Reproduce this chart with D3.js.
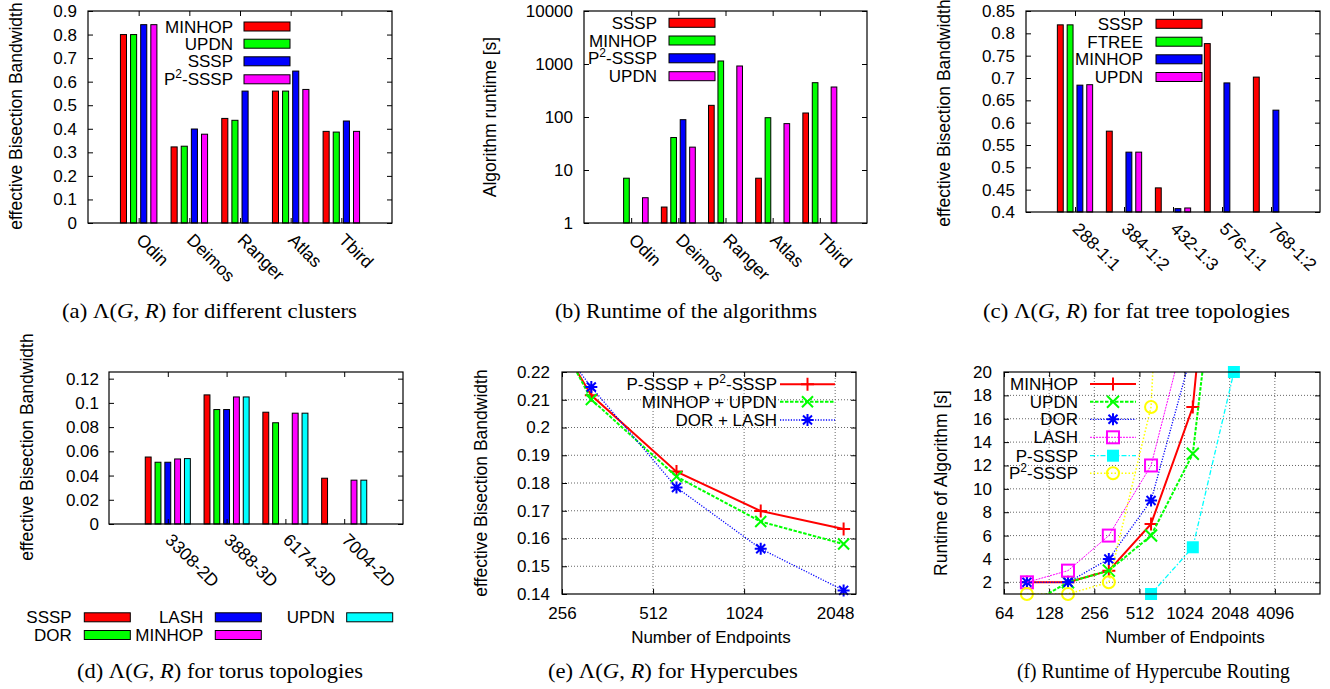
<!DOCTYPE html>
<html><head><meta charset="utf-8">
<script src="https://cdn.jsdelivr.net/npm/d3@7"></script>
<style>body{margin:0;background:#fff} svg{display:block}</style>
</head><body><svg id="c" width="1330" height="689"></svg>
<script>
// ---------- DATA ----------
// (a) effective bisection bandwidth, clusters
const clusters = ["Odin","Deimos","Ranger","Atlas","Tbird"];
const seriesA = ["MINHOP","UPDN","SSSP","P²-SSSP"];
const aMinhop = [0.800,0.323,0.444,0.560,0.389];
const aUpdn   = [0.800,0.326,0.436,0.560,0.386];
const aSssp   = [0.842,0.399,0.560,0.645,0.433];
const aP2sssp = [0.842,0.377,0,0.567,0.389];
// (b) runtime [s], clusters
const seriesB = ["SSSP","MINHOP","P²-SSSP","UPDN"];
const bSssp   = [1,2,166,7,119];
const bMinhop = [7,41,1140,97,444];
const bP2sssp = [1,89,null,null,null];
const bUpdn   = [3,27,917,75,368];
// (c) fat trees
const fatTrees = ["288-1:1","384-1:2","432-1:3","576-1:1","768-1:2"];
const seriesC = ["SSSP","FTREE","MINHOP","UPDN"];
const cSssp   = [0.819,0.581,0.454,0.777,0.702];
const cFtree  = [0.819,0,0,0,0];
const cMinhop = [0.684,0.534,0.4075,0.689,0.628];
const cUpdn   = [0.685,0.534,0.409,null,null];
// (d) tori
const tori = ["3308-2D","3888-3D","6174-3D","7004-2D"];
const seriesD = ["SSSP","DOR","LASH","MINHOP","UPDN"];
const dSssp   = [0.0553,0.1066,0.0923,0.0378];
const dDor    = [0.0510,0.0945,0.0836,null];
const dLash   = [0.0510,0.0945,0,null];
const dMinhop = [0.0537,0.1049,0.0915,0.0362];
const dUpdn   = [0.0540,0.1049,0.0915,0.0362];
// (e),(f) hypercubes
const hcEndpoints = [91,171,320,612,1162,2184];
const seriesE = ["P-SSSP + P²-SSSP","MINHOP + UPDN","DOR + LASH"];
const ePsssp  = [null,0.261,0.2116,0.1841,0.1699,0.1634];
const eMinUp  = [null,0.266,0.2101,0.1823,0.1661,0.1580];
const eDorLash= [null,0.253,0.2146,0.1784,0.1563,0.1413];
const seriesF = ["MINHOP","UPDN","DOR","LASH","P-SSSP","P²-SSSP"];
const fMinhop = [2,2,3,7,17,53];
const fUpdn   = [0,2,3,6,13,43];
const fDor    = [2,2,4,9,22,60];
const fLash   = [2,3,6,12,26,70];
const fPsssp  = [0,0,0,1,5,20];
const fP2sssp = [1,1,2,17,90,300];
// tick values
const ticksA = [0,0.1,0.2,0.3,0.4,0.5,0.6,0.7,0.8,0.9];
const ticksB = [1,10,100,1000,10000];
const ticksC = [0.4,0.45,0.5,0.55,0.6,0.65,0.7,0.75,0.8,0.85];
const ticksD = [0,0.02,0.04,0.06,0.08,0.1,0.12];
const ticksEy = [0.14,0.15,0.16,0.17,0.18,0.19,0.2,0.21,0.22];
const ticksEx = [256,512,1024,2048];
const ticksFy = [2,4,6,8,10,12,14,16,18,20];
const ticksFx = [64,128,256,512,1024,2048,4096];
// captions
const captions = [
  {pre:"(a) ", math:true, post:" for different clusters"},
  {pre:"(b) Runtime of the algorithms", math:false, post:""},
  {pre:"(c) ", math:true, post:" for fat tree topologies"},
  {pre:"(d) ", math:true, post:" for torus topologies"},
  {pre:"(e) ", math:true, post:" for Hypercubes"},
  {pre:"(f) Runtime of Hypercube Routing", math:false, post:""}
];

// ---------- DRAWING ----------
const svg = d3.select("#c");
const FONT = "'Liberation Sans', Arial, Helvetica, sans-serif";
const SERIF = "'Liberation Serif', 'Times New Roman', Times, serif";
const FS = 17;
const COL = {red:"#ff0000",green:"#00ff00",blue:"#0000ff",mag:"#ff00ff",cyan:"#00ffff",yel:"#ffff00"};
const numFmt = d => String(+(+d).toFixed(3));

function richText(sel, str){
  const parts = str.split("²");
  if(parts.length===1){ sel.text(str); return sel; }
  sel.append("tspan").text(parts[0]);
  sel.append("tspan").attr("dy",-7).attr("font-size",12).text("2");
  sel.append("tspan").attr("dy",7).text(parts[1]);
  return sel;
}
function styleAxis(g){
  g.select(".domain").remove();
  g.selectAll("line").attr("stroke","#000").attr("stroke-width",1);
  g.selectAll("text").attr("font-size",FS).attr("font-family",FONT).attr("fill","#000");
  g.attr("font-family",null).attr("font-size",null);
}
function frame(r){
  svg.append("rect").attr("x",r.x0).attr("y",r.y0).attr("width",r.x1-r.x0).attr("height",r.y1-r.y0)
    .attr("fill","none").attr("stroke","#000").attr("stroke-width",1.2);
}
function yTitle(str,x,yc){
  svg.append("text").attr("transform",`translate(${x},${yc}) rotate(-90)`).attr("text-anchor","middle")
    .attr("font-family",FONT).attr("font-size",17.5).text(str);
}
function caption(c, x0, x1, y){
  const g = svg.append("g");
  const t = g.append("text").attr("x",0).attr("y",0)
    .attr("font-family",SERIF).attr("font-size",21);
  t.append("tspan").text(c.pre);
  if(c.math){
    t.append("tspan").text("Λ(");
    t.append("tspan").attr("font-style","italic").text("G");
    t.append("tspan").text(", ");
    t.append("tspan").attr("font-style","italic").text("R");
    t.append("tspan").text(")");
  }
  if(c.post) t.append("tspan").text(c.post);
  const w = t.node().getComputedTextLength();
  const s = (x1-x0)/w;
  g.attr("transform",`translate(${x0},${y}) scale(${s},1)`);
}

function barPanel(cfg){
  const {r,cats,series,names,colors,y,yTicks,yPad,lab,legend} = cfg;
  const x = d3.scaleLinear().domain([-1,cats.length]).range([r.x0,r.x1]);
  const k = series.length, slot = x(1)-x(0), step = slot/(k+1), bw = step*0.6;
  const base = r.y1, dmin = y.domain()[0];
  series.forEach((vals,j)=>{
    vals.forEach((v,i)=>{
      if(v==null) return;
      const cx = x(i)+(j-(k-1)/2)*step;
      const yt = y(Math.max(v,dmin));
      svg.append("rect").attr("x",cx-bw/2).attr("y",yt).attr("width",bw).attr("height",base-yt)
        .attr("fill",colors[j]).attr("stroke","#000").attr("stroke-width",1);
    });
  });
  const fmt = cfg.yFmt || numFmt;
  styleAxis(svg.append("g").attr("transform",`translate(${r.x0},0)`)
    .call(d3.axisLeft(y).tickValues(yTicks).tickFormat(fmt).tickSize(-5).tickPadding(yPad)));
  styleAxis(svg.append("g").attr("transform",`translate(${r.x1},0)`)
    .call(d3.axisRight(y).tickValues(yTicks).tickFormat("").tickSize(-5)));
  const gb = svg.append("g").attr("transform",`translate(0,${r.y1})`)
    .call(d3.axisBottom(x).tickValues(d3.range(cats.length)).tickFormat(i=>cats[i]).tickSize(-5));
  styleAxis(gb);
  gb.selectAll("text").attr("y",null).attr("dy",null).attr("text-anchor","start").attr("font-size",17.5)
    .attr("transform",`translate(${lab[0]},${lab[1]}) rotate(45)`);
  styleAxis(svg.append("g").attr("transform",`translate(0,${r.y0})`)
    .call(d3.axisTop(x).tickValues(d3.range(cats.length)).tickFormat("").tickSize(-5)));
  frame(r);
  names.forEach((nm,j)=>{
    const p = legend.pos(j);
    richText(svg.append("text").attr("x",p.tx).attr("y",p.y+6).attr("text-anchor","end")
      .attr("font-family",FONT).attr("font-size",FS), nm);
    svg.append("rect").attr("x",p.bx).attr("y",p.y-4.5).attr("width",46).attr("height",9)
      .attr("fill",colors[j]).attr("stroke","#000").attr("stroke-width",1);
  });
}

function drawMarker(g,type,cx,cy,color,s){
  const P = (d,w)=>g.append("path").attr("d",d).attr("fill","none").attr("stroke",color).attr("stroke-width",w||1.6);
  if(type==="plus") P(`M${cx-s},${cy}H${cx+s}M${cx},${cy-s}V${cy+s}`,2);
  else if(type==="cross") P(`M${cx-s},${cy-s}L${cx+s},${cy+s}M${cx-s},${cy+s}L${cx+s},${cy-s}`,2);
  else if(type==="star") P(`M${cx-s},${cy}H${cx+s}M${cx},${cy-s}V${cy+s}M${cx-s*0.75},${cy-s*0.75}L${cx+s*0.75},${cy+s*0.75}M${cx-s*0.75},${cy+s*0.75}L${cx+s*0.75},${cy-s*0.75}`,2);
  else if(type==="square") g.append("rect").attr("x",cx-s).attr("y",cy-s).attr("width",2*s).attr("height",2*s).attr("fill","none").attr("stroke",color).attr("stroke-width",2);
  else if(type==="fsquare") g.append("rect").attr("x",cx-s).attr("y",cy-s).attr("width",2*s).attr("height",2*s).attr("fill",color);
  else if(type==="circle") g.append("circle").attr("cx",cx).attr("cy",cy).attr("r",s).attr("fill","none").attr("stroke",color).attr("stroke-width",2);
}

function linePanel(cfg){
  const {id,r,x,y,xTicks,yTicks,xs,series,legend} = cfg;
  const grid = svg.append("g");
  yTicks.filter(t=>y(t)>r.y0+0.5 && y(t)<r.y1-0.5).forEach(t=>{
    grid.append("line").attr("x1",r.x0).attr("x2",r.x1).attr("y1",y(t)).attr("y2",y(t))
      .attr("stroke","#666").attr("stroke-width",1).attr("stroke-dasharray","1,2");
  });
  xTicks.filter(t=>x(t)>r.x0+0.5 && x(t)<r.x1-0.5).forEach(t=>{
    grid.append("line").attr("y1",r.y0).attr("y2",r.y1).attr("x1",x(t)).attr("x2",x(t))
      .attr("stroke","#666").attr("stroke-width",1).attr("stroke-dasharray","1,2");
  });
  styleAxis(svg.append("g").attr("transform",`translate(${r.x0},0)`)
    .call(d3.axisLeft(y).tickValues(yTicks).tickFormat(numFmt).tickSize(-5).tickPadding(12)));
  styleAxis(svg.append("g").attr("transform",`translate(${r.x1},0)`)
    .call(d3.axisRight(y).tickValues(yTicks).tickFormat("").tickSize(-5)));
  styleAxis(svg.append("g").attr("transform",`translate(0,${r.y1})`)
    .call(d3.axisBottom(x).tickValues(xTicks).tickFormat(d3.format("d")).tickSize(-5).tickPadding(13)));
  styleAxis(svg.append("g").attr("transform",`translate(0,${r.y0})`)
    .call(d3.axisTop(x).tickValues(xTicks).tickFormat("").tickSize(-5)));
  svg.append("clipPath").attr("id",id).append("rect").attr("x",r.x0).attr("y",r.y0).attr("width",r.x1-r.x0).attr("height",r.y1-r.y0);
  const [ylo,yhi] = y.domain();
  series.forEach(s=>{
    const pts = xs.map((xv,i)=>[xv,s.vals[i]]);
    const line = d3.line().defined(d=>d[1]!=null).x(d=>x(d[0])).y(d=>y(d[1]));
    svg.append("path").attr("d",line(pts)).attr("clip-path",`url(#${id})`).attr("fill","none")
      .attr("stroke",s.color).attr("stroke-width",s.w).attr("stroke-dasharray",s.dash||null);
    const g = svg.append("g");
    pts.forEach(d=>{ if(d[1]!=null && d[1]>=ylo-1e-9 && d[1]<=yhi+1e-9) drawMarker(g,s.marker,x(d[0]),y(d[1]),s.color,s.ms); });
  });
  frame(r);
  series.forEach((s,j)=>{
    const yy = legend.rows[j];
    richText(svg.append("text").attr("x",legend.tx).attr("y",yy+6).attr("text-anchor","end")
      .attr("font-family",FONT).attr("font-size",FS), s.name);
    svg.append("line").attr("x1",legend.l0).attr("x2",legend.l1).attr("y1",yy).attr("y2",yy)
      .attr("stroke",s.color).attr("stroke-width",s.w).attr("stroke-dasharray",s.dash||null);
    drawMarker(svg.append("g"),s.marker,(legend.l0+legend.l1)/2,yy,s.color,s.ms);
  });
}

// (a)
const rA = {x0:88,x1:392,y0:11,y1:223};
barPanel({r:rA,cats:clusters,series:[aMinhop,aUpdn,aSssp,aP2sssp],names:seriesA,
  colors:[COL.red,COL.green,COL.blue,COL.mag],
  y:d3.scaleLinear().domain([0,0.9]).range([rA.y1,rA.y0]),yTicks:ticksA,yPad:11,lab:[-4,18],
  legend:{pos:j=>({tx:233,bx:244,y:[26.5,43.7,61.3,79.3][j]})}});
yTitle("effective Bisection Bandwidth",22,116);
// (b)
const rB = {x0:584,x1:867,y0:11,y1:223};
barPanel({r:rB,cats:clusters,series:[bSssp,bMinhop,bP2sssp,bUpdn],names:seriesB,
  colors:[COL.red,COL.green,COL.blue,COL.mag],
  y:d3.scaleLog().domain([1,10000]).range([rB.y1,rB.y0]),yTicks:ticksB,yPad:11,yFmt:d3.format("d"),lab:[-4,18],
  legend:{pos:j=>({tx:657,bx:669,y:[22.8,40.5,58.3,76.2][j]})}});
yTitle("Algorithm runtime [s]",496,117);
// (c)
const rC = {x0:1026,x1:1320,y0:11,y1:212};
barPanel({r:rC,cats:fatTrees,series:[cSssp,cFtree,cMinhop,cUpdn],names:seriesC,
  colors:[COL.red,COL.green,COL.blue,COL.mag],
  y:d3.scaleLinear().domain([0.4,0.85]).range([rC.y1,rC.y0]),yTicks:ticksC,yPad:11,lab:[-4,18],
  legend:{pos:j=>({tx:1143,bx:1156,y:[23.8,41.7,59.3,77][j]})}});
yTitle("effective Bisection Bandwidth",950,113);
// (d)
const rD = {x0:109,x1:403,y0:372,y1:524};
barPanel({r:rD,cats:tori,series:[dSssp,dDor,dLash,dMinhop,dUpdn],names:seriesD,
  colors:[COL.red,COL.green,COL.blue,COL.mag,COL.cyan],
  y:d3.scaleLinear().domain([0,0.1255]).range([rD.y1,rD.y0]),yTicks:ticksD,yPad:10,lab:[-4,17],
  legend:{pos:j=>({tx:[71.7,203.3,335][Math.floor(j/2)],bx:[84.3,215.3,346.7][Math.floor(j/2)],y:[617.3,635][j%2]})}});
yTitle("effective Bisection Bandwidth",33,447);
// (e)
const rE = {x0:562,x1:856,y0:372,y1:594};
linePanel({id:"clipE",r:rE,x:d3.scaleLog().base(2).domain([256,2400]).range([rE.x0,rE.x1]),
  y:d3.scaleLinear().domain([0.14,0.22]).range([rE.y1,rE.y0]),xTicks:ticksEx,yTicks:ticksEy,xs:hcEndpoints,
  series:[
    {name:seriesE[0],vals:ePsssp,color:COL.red,w:2,dash:null,marker:"plus",ms:6.5},
    {name:seriesE[1],vals:eMinUp,color:COL.green,w:2,dash:"3.5,1.5",marker:"cross",ms:5.5},
    {name:seriesE[2],vals:eDorLash,color:COL.blue,w:1.3,dash:"1.2,1.5",marker:"star",ms:6}],
  legend:{tx:777,l0:780,l1:835,rows:[384.3,401.7,420]}});
yTitle("effective Bisection Bandwidth",487,483);
svg.append("text").attr("x",711).attr("y",643).attr("text-anchor","middle").attr("font-family",FONT).attr("font-size",FS).text("Number of Endpoints");
// (f)
const rF = {x0:1004,x1:1320,y0:372,y1:594};
linePanel({id:"clipF",r:rF,x:d3.scaleLog().base(2).domain([64,8192]).range([rF.x0,rF.x1]),
  y:d3.scaleLinear().domain([1,20]).range([rF.y1,rF.y0]),xTicks:ticksFx,yTicks:ticksFy,xs:hcEndpoints,
  series:[
    {name:seriesF[0],vals:fMinhop,color:COL.red,w:2,dash:null,marker:"plus",ms:6.5},
    {name:seriesF[1],vals:fUpdn,color:COL.green,w:2,dash:"3.5,1.5",marker:"cross",ms:6},
    {name:seriesF[2],vals:fDor,color:COL.blue,w:1.3,dash:"1.2,1.5",marker:"star",ms:6},
    {name:seriesF[3],vals:fLash,color:COL.mag,w:1,dash:"2,1",marker:"square",ms:6},
    {name:seriesF[4],vals:fPsssp,color:COL.cyan,w:1.3,dash:"5,2,1.5,2",marker:"fsquare",ms:6},
    {name:seriesF[5],vals:fP2sssp,color:COL.yel,w:1.5,dash:"1.5,2",marker:"circle",ms:6}],
  legend:{tx:1078,l0:1090,l1:1136,rows:[384,401.7,419.3,437.3,455.7,473.3]}});
yTitle("Runtime of Algorithm [s]",947,483);
svg.append("text").attr("x",1185).attr("y",643).attr("text-anchor","middle").attr("font-family",FONT).attr("font-size",FS).text("Number of Endpoints");

// captions
caption(captions[0],62,357,318);
caption(captions[1],555,817,318);
caption(captions[2],983,1290,318);
caption(captions[3],77,363,678);
caption(captions[4],548,798,678);
caption(captions[5],1017,1290,678);
</script></body></html>
